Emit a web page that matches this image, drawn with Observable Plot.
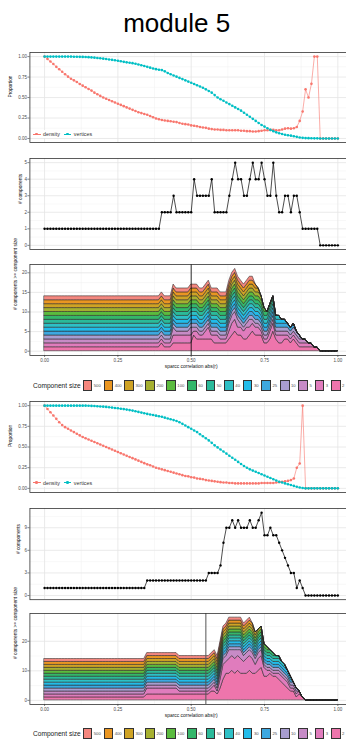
<!DOCTYPE html>
<html>
<head>
<meta charset="utf-8">
<script src="https://cdn.jsdelivr.net/npm/d3@7"></script>
<script src="https://cdn.jsdelivr.net/npm/@observablehq/plot@0.6"></script>
<style>
  html, body { margin: 0; padding: 0; background: #ffffff; }
  #root { position: relative; width: 346px; height: 744px; overflow: hidden; background: #fff;
          font-family: "Liberation Sans", Arial, Helvetica, sans-serif; }
  .panel { position: absolute; left: 0; width: 352px; }
  .title { position: absolute; left: 0; width: 353.4px; top: 9.7px; text-align: center;
           font-size: 26px; line-height: 26px; color: #000; }
  .dlg { position: absolute; left: 31px; height: 8px; display: flex; align-items: center;
         background: #fff; padding: 0 2px; font-size: 5.3px; color: #333; white-space: nowrap; }
  .dkey { position: relative; width: 7.5px; height: 8px; margin-right: 2.5px; }
  .dkey::before { content: ""; position: absolute; left: 0; right: 0; top: 3.7px; height: 0.6px; background: var(--c); }
  .dkey::after { content: ""; position: absolute; left: 2.45px; top: 2.7px; width: 2.6px; height: 2.6px;
                 border-radius: 50%; background: var(--c); }
  .dtxt { margin-right: 4px; }
  .clg { position: absolute; left: 33px; height: 12px; display: flex; align-items: center; white-space: nowrap; }
  .ctitle { font-size: 6.6px; color: #1a1a1a; margin-right: 2px; }
  .cbox { width: 9.6px; height: 10.5px; box-sizing: border-box; border: 0.8px solid #333; flex: none; }
  .clab { font-size: 4.2px; color: #4d4d4d; margin-left: 1.5px; margin-right: 2.8px; }
</style>
</head>
<body>
<div id="root">
  <div class="title">module 5</div>
</div>
<script>
// ---------------- DATA ----------------
const corr = [0,0.01,0.02,0.03,0.04,0.05,0.06,0.07,0.08,0.09,
  0.1,0.11,0.12,0.13,0.14,0.15,0.16,0.17,0.18,0.19,
  0.2,0.21,0.22,0.23,0.24,0.25,0.26,0.27,0.28,0.29,
  0.3,0.31,0.32,0.33,0.34,0.35,0.36,0.37,0.38,0.39,
  0.4,0.41,0.42,0.43,0.44,0.45,0.46,0.47,0.48,0.49,
  0.5,0.51,0.52,0.53,0.54,0.55,0.56,0.57,0.58,0.59,
  0.6,0.61,0.62,0.63,0.64,0.65,0.66,0.67,0.68,0.69,
  0.7,0.71,0.72,0.73,0.74,0.75,0.76,0.77,0.78,0.79,
  0.8,0.81,0.82,0.83,0.84,0.85,0.86,0.87,0.88,0.89,
  0.9,0.91,0.92,0.93,0.94,0.95,0.96,0.97,0.98,0.99,
  1];

// first block
const density1 = [1.00,0.97,0.94,0.91,0.875,0.845,0.815,0.785,0.755,0.73,
  0.71,0.69,0.665,0.645,0.625,0.605,0.585,0.56,0.54,0.52,
  0.50,0.485,0.47,0.455,0.44,0.425,0.41,0.395,0.38,0.365,
  0.35,0.335,0.32,0.31,0.30,0.29,0.275,0.26,0.245,0.235,
  0.225,0.22,0.215,0.21,0.205,0.20,0.19,0.18,0.175,0.17,
  0.16,0.155,0.15,0.14,0.135,0.13,0.12,0.115,0.11,0.11,
  0.105,0.105,0.10,0.10,0.10,0.10,0.10,0.095,0.095,0.09,
  0.09,0.085,0.085,0.09,0.095,0.10,0.10,0.105,0.105,0.10,
  0.10,0.11,0.12,0.125,0.12,0.125,0.14,0.215,0.33,0.60,
  0.50,0.667,1.00,1.00,0,0,0,0,0,0,
  0];
const vertices1 = [1,1,1,1,1,1,1,1,1,1,
  0.999,0.998,0.997,0.996,0.995,0.993,0.99,0.987,0.983,0.979,
  0.975,0.97,0.965,0.96,0.955,0.95,0.943,0.936,0.93,0.925,
  0.92,0.912,0.904,0.895,0.885,0.875,0.865,0.855,0.847,0.84,
  0.835,0.82,0.80,0.785,0.77,0.755,0.74,0.725,0.71,0.695,
  0.68,0.665,0.65,0.635,0.62,0.60,0.58,0.56,0.53,0.50,
  0.48,0.46,0.44,0.42,0.40,0.38,0.36,0.34,0.315,0.29,
  0.265,0.24,0.215,0.19,0.165,0.145,0.125,0.105,0.09,0.075,
  0.065,0.055,0.045,0.04,0.035,0.028,0.02,0.012,0.008,0.005,
  0.004,0.003,0.002,0.002,0,0,0,0,0,0,
  0];
const ncomp1 = [1,1,1,1,1,1,1,1,1,1,
  1,1,1,1,1,1,1,1,1,1,
  1,1,1,1,1,1,1,1,1,1,
  1,1,1,1,1,1,1,1,1,1,
  2,2,2,2,3,2,2,2,2,2,
  2,4,3,3,3,3,3,4,2,2,
  2,2,2,3,4,5,4,4,3,3,
  4,5,4,4,5,4,3,3,5,3,
  2,2,3,3,2,3,3,2,1,1,
  1,1,1,1,0,0,0,0,0,0,
  0];
// component sizes at each cutoff (entries separated by spaces, sizes by commas, "-" = none)
const comps1Text = `
600 600 600 600 600 600 600 600 600 600
600 600 600 600 600 600 600 600 600 600
600 600 600 600 600 600 600 600 600 600
600 600 600 600 600 600 600 600 600 600
600,2 600 600 600 600,6 600,3 600,3 600,3 600,3 600,3
600,6 600,2,2,2 600,3,2 600,2,2 600,2,2 600,3,2 600,4,3 600,2,2 600,3 600,3
600,2 600,2 600,2 600,6,2 600,6,3,2 600,5,3,2,2 600,5,2,2 600,3,2,2 600,3,2 600,4,3
600,5,2,2 600,3,2,2,2 450,3,2,2 350,3,2,2 250,2,2,2 120,2 80,2 80,3,2 60,3,2,2,2 45,2,2
40,3 35,3 30,2,2 28,2,2 26,2 26,2,2 20,2 10 6 5
4 3 2 2 - - - - - -
-`;
const cutoff1 = 0.5;

// second block
const density2 = [1.00,0.96,0.92,0.88,0.84,0.80,0.765,0.74,0.72,0.70,
  0.68,0.66,0.64,0.62,0.605,0.59,0.575,0.56,0.545,0.53,
  0.515,0.50,0.485,0.47,0.455,0.44,0.425,0.41,0.395,0.38,
  0.365,0.35,0.335,0.32,0.305,0.29,0.28,0.265,0.25,0.24,
  0.23,0.22,0.21,0.20,0.19,0.18,0.17,0.16,0.15,0.145,
  0.135,0.13,0.12,0.115,0.11,0.10,0.095,0.09,0.085,0.08,
  0.075,0.07,0.07,0.065,0.065,0.06,0.06,0.06,0.06,0.06,
  0.06,0.06,0.06,0.06,0.065,0.065,0.065,0.065,0.065,0.07,
  0.075,0.08,0.085,0.09,0.10,0.12,0.25,0.30,1.00,0,
  0,0,0,0,0,0,0,0,0,0,
  0];
const vertices2 = [1,1,1,1,1,1,1,1,1,1,
  1,1,1,1,1,0.998,0.997,0.995,0.993,0.99,
  0.988,0.985,0.98,0.976,0.972,0.968,0.963,0.958,0.952,0.946,
  0.94,0.932,0.924,0.916,0.908,0.90,0.893,0.886,0.879,0.872,
  0.865,0.855,0.845,0.835,0.825,0.815,0.80,0.78,0.76,0.74,
  0.72,0.70,0.68,0.655,0.63,0.605,0.58,0.55,0.52,0.495,
  0.47,0.445,0.42,0.395,0.37,0.345,0.32,0.295,0.27,0.25,
  0.23,0.215,0.20,0.185,0.17,0.155,0.14,0.125,0.11,0.095,
  0.08,0.07,0.06,0.05,0.04,0.03,0.02,0.01,0.005,0,
  0,0,0,0,0,0,0,0,0,0,
  0];
const ncomp2 = [1,1,1,1,1,1,1,1,1,1,
  1,1,1,1,1,1,1,1,1,1,
  1,1,1,1,1,1,1,1,1,1,
  1,1,1,1,1,2,2,2,2,2,
  2,2,2,2,2,2,2,2,2,2,
  2,2,2,2,2,2,3,3,3,3,
  4,7,9,9,10,9,10,9,9,9,
  10,9,9,10,11,8,8,9,8,8,
  7,6,5,4,3,3,1,2,1,0,
  0,0,0,0,0,0,0,0,0,0,
  0];
const comps2Text = `
600 600 600 600 600 600 600 600 600 600
600 600 600 600 600 600 600 600 600 600
600 600 600 600 600 600 600 600 600 600
600 600 600 600 600 600,3 600,3 600,3 600,3 600,3
600,3 600,3 600,3 600,3 600,3 600,3 600,2 600,2 600,2 600,2
600,2 600,2 600,2 600,2 600,2 600,2 600,2 600,2,2 600,3,2 600,2
600,6,3,2 600,6,4,3,3,2,2 600,6,3,3,2,2,2,2,2 600,6,5,3,3,2,2,2,2 600,6,3,3,3,2,2,2,2,2 600,6,5,3,3,2,2,2,2 600,6,3,3,3,2,2,2,2,2 600,6,5,3,3,2,2,2,2 600,6,3,3,2,2,2,2,2 600,6,3,3,3,2,2,2,2
600,6,3,3,3,2,2,2,2,2 450,6,3,3,3,2,2,2,2 350,5,3,2,2,2,2,2,2 250,5,3,3,2,2,2,2,2,2 250,5,3,3,2,2,2,2,2,2,2 150,3,3,2,2,2,2,2 120,3,2,2,2,2,2,2 80,2,2,2,2,2,2,2,2 80,2,2,2,2,2,2,2 55,2,2,2,2,2,2,2
55,3,2,2,2,2,2 40,3,2,2,2,2 40,3,2,2,2 30,3,2,2 30,2,2 12,2,2 12 3,2 2 -
- - - - - - - - - -
-`;
const cutoff2 = 0.55;

// component-size classes (legend order, top of stack first)
const sizeLabels = ["500","400","300","200","100","60","50","40","30","25","10","5","3","2"];
const sizeMins   = [500,400,300,200,100,60,50,40,30,25,10,5,3,2];
const sizeColors = ["#F4877F","#EA9622","#CFA325","#A6B030","#5BBB3E","#34B76A","#2BBA9A",
                    "#2EC0C6","#22BCEA","#3DA8E0","#A89DCF","#C78BC6","#E07CBD","#EE75AC"];

const seriesNames = ["density", "vertices"];
const seriesColors = ["#F8766D", "#00BFC4"];

// ---------------- HELPERS ----------------
const FONT = '"Liberation Sans", Arial, Helvetica, sans-serif';
const ML = 29.4, MT = 2, PW = 352;
const xMajor = [0, 0.25, 0.5, 0.75, 1];
const xMinor = [0.125, 0.375, 0.625, 0.875];
const root = document.getElementById("root");

function parseComps(txt) {
  return txt.trim().split(/\s+/).map(s => s === "-" ? [] : s.split(",").map(Number));
}
function stackRows(compsText) {
  const comps = parseComps(compsText);
  const rows = [];
  // bottom of stack first: smallest size class
  for (let k = sizeLabels.length - 1; k >= 0; k--) {
    corr.forEach((x, i) => {
      const count = comps[i].filter(s => s >= sizeMins[k]).length;
      rows.push({x, layer: sizeLabels[k], count});
    });
  }
  return rows;
}

function makePanel(o) {
  const mb = o.showX ? 22 : 2;
  const marks = [
    Plot.gridX(xMinor, {stroke: "#f1f1f1", strokeOpacity: 1, strokeWidth: 0.5}),
    Plot.gridY(o.yMinor, {stroke: "#f1f1f1", strokeOpacity: 1, strokeWidth: 0.5}),
    Plot.gridX(xMajor, {stroke: "#e5e5e5", strokeOpacity: 1, strokeWidth: 0.8}),
    Plot.gridY(o.yTicks, {stroke: "#e5e5e5", strokeOpacity: 1, strokeWidth: 0.8}),
    ...o.marks,
    Plot.frame({stroke: "#333333", strokeWidth: 0.8}),
    Plot.axisY(o.yTicks, {tickSize: 2, tickPadding: 1, fontSize: 4.5, tickFormat: o.fmt,
      stroke: "#333333", fill: "#4d4d4d", strokeWidth: 0.6, label: null}),
    Plot.text([o.yTitle], {text: d => d, frameAnchor: "left", rotate: -90, dx: o.titleDx,
      fontSize: 4.8, fill: "#111"})
  ];
  if (o.showX) {
    marks.push(
      Plot.axisX(xMajor, {anchor: "bottom", tickSize: 2, tickPadding: 1.2, fontSize: 4.5,
        tickFormat: d => d.toFixed(2), stroke: "#333333", fill: "#4d4d4d", strokeWidth: 0.6, label: null}),
      Plot.text(["sparcc correlation abs(r)"], {text: d => d, frameAnchor: "bottom", dy: 12,
        fontSize: 4.9, fill: "#111"})
    );
  }
  const svg = Plot.plot({
    width: PW, height: o.frameH + MT + mb,
    marginLeft: ML, marginRight: 0, marginTop: MT, marginBottom: mb,
    style: {fontFamily: FONT, background: "transparent", maxWidth: "none", overflow: "visible"},
    x: {domain: [-0.05, 1.05], axis: null},
    y: {domain: o.yDomain, axis: null},
    color: {domain: sizeLabels, range: sizeColors},
    marks
  });
  const wrap = document.createElement("div");
  wrap.className = "panel";
  wrap.style.top = (o.top - MT) + "px";
  wrap.appendChild(svg);
  root.appendChild(wrap);
}

function propMarks(dens, vert) {
  const rows = corr.map((x, i) => ({x, density: dens[i], vertices: vert[i]}));
  const m = [];
  seriesNames.forEach((s, j) => {
    m.push(Plot.line(rows, {x: "x", y: s, stroke: seriesColors[j], strokeWidth: 0.6}));
    m.push(Plot.dot(rows, {x: "x", y: s, fill: seriesColors[j], r: 1.3}));
  });
  return m;
}
function countMarks(nc) {
  const rows = corr.map((x, i) => ({x, n: nc[i]}));
  return [
    Plot.line(rows, {x: "x", y: "n", stroke: "#000", strokeWidth: 0.7}),
    Plot.dot(rows, {x: "x", y: "n", fill: "#000", r: 1.2})
  ];
}
function areaMarks(txt, cutoff, ruleColor, ruleWidth) {
  return [
    Plot.areaY(stackRows(txt), {x: "x", y: "count", z: "layer", fill: "layer",
      stroke: "#262626", strokeWidth: 0.55}),
    Plot.ruleX([cutoff], {stroke: ruleColor, strokeWidth: ruleWidth})
  ];
}
function densityLegend(top) {
  const d = document.createElement("div");
  d.className = "dlg";
  d.style.top = top + "px";
  d.innerHTML = seriesNames.map((s, j) =>
    `<span class="dkey" style="--c:${seriesColors[j]}"></span><span class="dtxt">${s}</span>`).join("");
  root.appendChild(d);
}
function sizeLegend(top) {
  const d = document.createElement("div");
  d.className = "clg";
  d.style.top = top + "px";
  d.innerHTML = `<span class="ctitle">Component size</span>` + sizeLabels.map((s, k) =>
    `<span class="cbox" style="background:${sizeColors[k]}"></span><span class="clab">${s}</span>`).join("");
  root.appendChild(d);
}

const fmt2 = d => d.toFixed(2);
const fmt0 = d => String(d);
const propTicks = [0, 0.25, 0.5, 0.75, 1], propMinor = [0.125, 0.375, 0.625, 0.875];

// ---------------- FIRST BLOCK ----------------
makePanel({top: 51.7, frameH: 90.1, yDomain: [-0.05, 1.05], yTicks: propTicks, yMinor: propMinor,
  fmt: fmt2, yTitle: "Proportion", titleDx: -19.4, marks: propMarks(density1, vertices1)});
densityLegend(130);
makePanel({top: 158.2, frameH: 91, yDomain: [-0.25, 5.25], yTicks: [0,1,2,3,4,5], yMinor: [0.5,1.5,2.5,3.5,4.5],
  fmt: fmt0, yTitle: "# components", titleDx: -9.6, marks: countMarks(ncomp1)});
makePanel({top: 264, frameH: 91, yDomain: [-1.1, 22.12], yTicks: [0,5,10,15,20], yMinor: [2.5,7.5,12.5,17.5],
  fmt: fmt0, yTitle: "# components >= component size", titleDx: -14.4, showX: true,
  marks: areaMarks(comps1Text, cutoff1, "#000", 0.8)});
sizeLegend(379.7);

// ---------------- SECOND BLOCK ----------------
makePanel({top: 400.6, frameH: 91, yDomain: [-0.05, 1.05], yTicks: propTicks, yMinor: propMinor,
  fmt: fmt2, yTitle: "Proportion", titleDx: -19.4, marks: propMarks(density2, vertices2)});
densityLegend(478.7);
makePanel({top: 507.5, frameH: 91.2, yDomain: [-0.55, 11.55], yTicks: [0,3,6,9], yMinor: [1.5,4.5,7.5,10.5],
  fmt: fmt0, yTitle: "# components", titleDx: -11, marks: countMarks(ncomp2)});
makePanel({top: 613.3, frameH: 91, yDomain: [-1.4, 29.4], yTicks: [0,10,20], yMinor: [5,15,25],
  fmt: fmt0, yTitle: "# components >= component size", titleDx: -14.4, showX: true,
  marks: areaMarks(comps2Text, cutoff2, "#555", 1)});
sizeLegend(727.5);
</script>
</body>
</html>
